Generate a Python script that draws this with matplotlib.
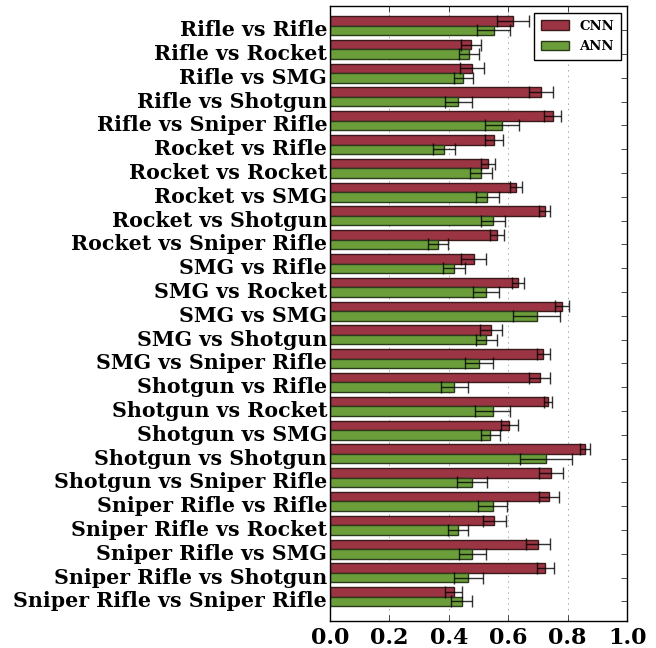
import numpy as np
import matplotlib.pyplot as plt

labels = ["Rifle vs Rifle", "Rifle vs Rocket", "Rifle vs SMG", "Rifle vs Shotgun",
          "Rifle vs Sniper Rifle", "Rocket vs Rifle", "Rocket vs Rocket", "Rocket vs SMG",
          "Rocket vs Shotgun", "Rocket vs Sniper Rifle", "SMG vs Rifle", "SMG vs Rocket",
          "SMG vs SMG", "SMG vs Shotgun", "SMG vs Sniper Rifle", "Shotgun vs Rifle",
          "Shotgun vs Rocket", "Shotgun vs SMG", "Shotgun vs Shotgun", "Shotgun vs Sniper Rifle",
          "Sniper Rifle vs Rifle", "Sniper Rifle vs Rocket", "Sniper Rifle vs SMG",
          "Sniper Rifle vs Shotgun", "Sniper Rifle vs Sniper Rifle"]

cnn_mean = [0.616, 0.474, 0.478, 0.710, 0.749, 0.552, 0.532, 0.625, 0.722, 0.561,
            0.484, 0.632, 0.780, 0.542, 0.718, 0.706, 0.734, 0.604, 0.857, 0.745,
            0.736, 0.553, 0.700, 0.725, 0.416]
cnn_err = [0.055, 0.033, 0.039, 0.040, 0.030, 0.030, 0.025, 0.020, 0.017, 0.023,
           0.042, 0.020, 0.024, 0.036, 0.022, 0.035, 0.013, 0.028, 0.017, 0.040,
           0.034, 0.038, 0.039, 0.028, 0.028]
ann_mean = [0.551, 0.469, 0.448, 0.432, 0.580, 0.385, 0.508, 0.530, 0.548, 0.363,
            0.418, 0.526, 0.696, 0.526, 0.502, 0.418, 0.547, 0.540, 0.728, 0.479,
            0.547, 0.432, 0.479, 0.466, 0.443]
ann_err = [0.056, 0.034, 0.032, 0.046, 0.057, 0.037, 0.036, 0.038, 0.040, 0.033,
           0.036, 0.044, 0.079, 0.035, 0.047, 0.045, 0.059, 0.032, 0.087, 0.050,
           0.049, 0.034, 0.046, 0.049, 0.035]

plt.style.use('classic')
plt.rcParams['font.family'] = 'DejaVu Serif'
plt.rcParams['font.weight'] = 'bold'

# first pairing goes at the top
n = len(labels)
ind = np.arange(n)[::-1]
width = 0.4

fig = plt.figure(figsize=(6.56, 6.48), dpi=100)
ax = fig.add_axes([0.503, 0.041, 0.453, 0.949])

err_kw = dict(ecolor='black', capsize=4, elinewidth=1, capthick=1, alpha=0.8)
ax.barh(ind + width, cnn_mean, width, xerr=cnn_err, color='#9b3443',
        edgecolor='#3a1a1a', linewidth=1, error_kw=err_kw, label='CNN')
ax.barh(ind, ann_mean, width, xerr=ann_err, color='#6b9e3a',
        edgecolor='#2a3a1a', linewidth=1, error_kw=err_kw, label='ANN')

ax.set_yticks(ind)
ax.set_yticklabels(labels, fontsize=14.8, fontweight='bold')
ax.set_xlim(0, 1.0)
ax.set_ylim(-0.84, n - 1 + 1.0)
ax.set_xticks(np.arange(0, 1.01, 0.2))
ax.set_xticklabels(['%.1f' % v for v in np.arange(0, 1.01, 0.2)],
                   fontsize=16, fontweight='bold')
ax.xaxis.grid(True, linestyle=':', color='gray')
ax.set_axisbelow(True)
ax.tick_params(axis='y', pad=2)

ax.legend(loc='upper right', prop={'size': 9.5, 'weight': 'bold'}, fancybox=False,
          handlelength=2.1, handletextpad=0.8, borderpad=0.5, labelspacing=0.55,
          borderaxespad=0.5)

fig.savefig('out.png', dpi=100)
